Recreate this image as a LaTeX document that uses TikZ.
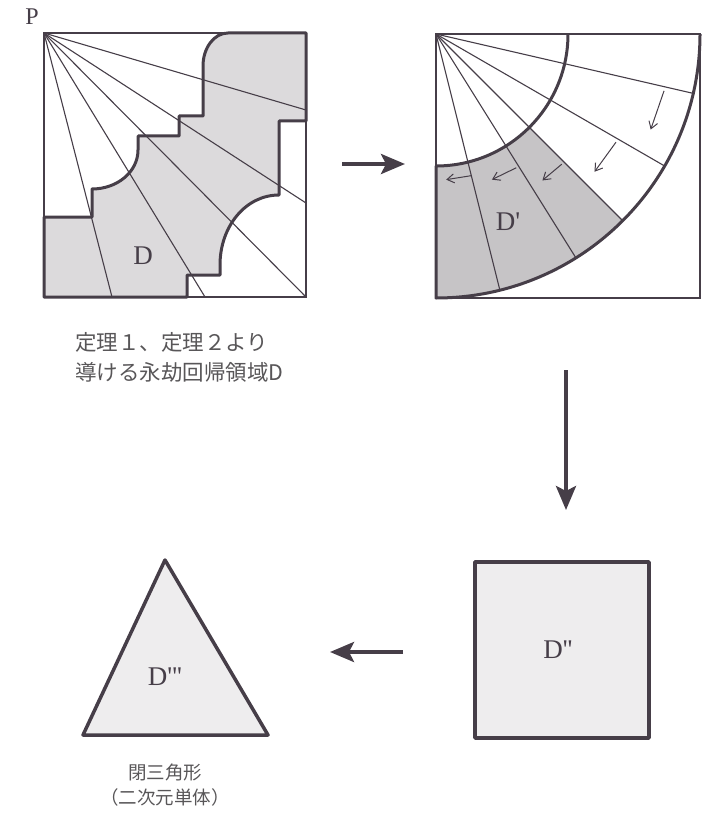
\documentclass[tikz,border=0pt]{standalone}
\usepackage{fontspec}
\newfontfamily\jpfont{Noto Sans CJK JP}
\newfontfamily\lblfont{Liberation Serif}
\usepackage{tikz}
\usetikzlibrary{arrows.meta}

\definecolor{ink}{RGB}{70,62,72}
\definecolor{dotfill}{RGB}{220,218,220}
\definecolor{darkfill}{RGB}{198,196,198}
\definecolor{lightfill}{RGB}{238,237,238}
\definecolor{captext}{RGB}{88,86,88}

\begin{document}
\begin{tikzpicture}[x=1pt, y=1pt, yscale=-1,
  thin line/.style={ink, line width=1.1pt},
  bold line/.style={ink, line width=3pt, line join=round},
  big arrow/.style={ink, line width=4pt, -{Stealth[length=24pt, width=20pt, inset=5pt]}},
  small arrow/.style={ink, line width=1pt, -{Straight Barb[length=7pt, width=9pt]}},
  dlabel/.style={font=\lblfont\fontsize{27}{29}\selectfont, text=ink, inner sep=0pt},
  jpcap/.style={font=\jpfont\fontsize{21.5}{25}\selectfont, text=captext, inner sep=0pt},
  jpcapsmall/.style={font=\jpfont\fontsize{18.5}{22}\selectfont, text=captext, inner sep=0pt}]
  \useasboundingbox (0,0) rectangle (708,821);

  % region D
  \fill[dotfill] (44,217) -- (92,217) -- (92,189) .. controls (117,189) and (138,172) .. (138,150)
    -- (138,136) -- (179,136) -- (179,116) -- (203,116) -- (203,66) .. controls (203,48) and (214,33) .. (228,33)
    -- (306,33) -- (306,121) -- (279,121) -- (279,195) .. controls (246,195) and (220,226) .. (220,265)
    -- (220,275) -- (187,275) -- (187,297) -- (44,297) -- cycle;
  \foreach \e in {(306,110), (306,203), (306,297), (205,297), (112,297)}
    \draw[thin line] (44,33) -- \e;
  \draw[thin line] (44,33) rectangle (306,297);
  \draw[bold line] (44,217) -- (92,217) -- (92,189) .. controls (117,189) and (138,172) .. (138,150)
    -- (138,136) -- (179,136) -- (179,116) -- (203,116) -- (203,66) .. controls (203,48) and (214,33) .. (228,33)
    -- (306,33) -- (306,121) -- (279,121) -- (279,195) .. controls (246,195) and (220,226) .. (220,265)
    -- (220,275) -- (187,275) -- (187,297) -- (44,297) -- cycle;
  \node[dlabel, font=\lblfont\fontsize{24}{26}\selectfont] (P) at (32,17) {P};
  \node[dlabel] (D) at (143,256) {D};

  % region D'
  \begin{scope}[shift={(436,34)}]
    \fill[darkfill] (90:132) -- (90:264) arc[start angle=90, end angle=45, radius=264]
      -- (45:132) arc[start angle=45, end angle=90, radius=132] -- cycle;
    \foreach \a in {13,30,45,58,76}
      \draw[thin line] (0,0) -- (\a:264);
    \draw[thin line] (0,0) rectangle (264,264);
    \draw[bold line] (132,0) arc[start angle=0, end angle=90, radius=132] -- (0,264)
      arc[start angle=90, end angle=0, radius=264];
    \foreach \a/\b/\r [count=\i] in {14/24/235, 31/41/210, 46/54/181, 59/69/156, 76/86/146} {
      \coordinate (s\i) at (\a:\r);
      \coordinate (e\i) at (\b:\r);
      \draw[small arrow] (s\i) -- (e\i);
    }
  \end{scope}
  \node[dlabel] (D1) at (508,222) {D\char"27};

  % D'' and D'''
  \draw[bold line, line width=3.5pt, fill=lightfill] (475,562) rectangle (649,738);
  \node[dlabel] (D2) at (558,650) {D\char"27\char"27};
  \draw[bold line, line width=3.5pt, fill=lightfill] (165,560) -- (268,735) -- (83,735) -- cycle;
  \node[dlabel] (D3) at (165,677) {D\char"27\char"27\char"27};

  % arrows between steps
  \coordinate (a1) at (342,164);
  \coordinate (b1) at (405,164);
  \coordinate (a2) at (566,370);
  \coordinate (b2) at (566,510);
  \coordinate (a3) at (403,652);
  \coordinate (b3) at (330,652);
  \draw[big arrow] (a1) -- (b1);
  \draw[big arrow] (a2) -- (b2);
  \draw[big arrow] (a3) -- (b3);

  % captions
  \node[jpcap, anchor=west] (capA) at (75,342) {定理１、定理２より};
  \node[jpcap, anchor=west] (capB) at (75,372) {導ける永劫回帰領域D};
  \node[jpcapsmall] (capC) at (165,772) {閉三角形};
  \node[jpcapsmall] (capD) at (165,797) {（二次元単体）};
\end{tikzpicture}
\end{document}
